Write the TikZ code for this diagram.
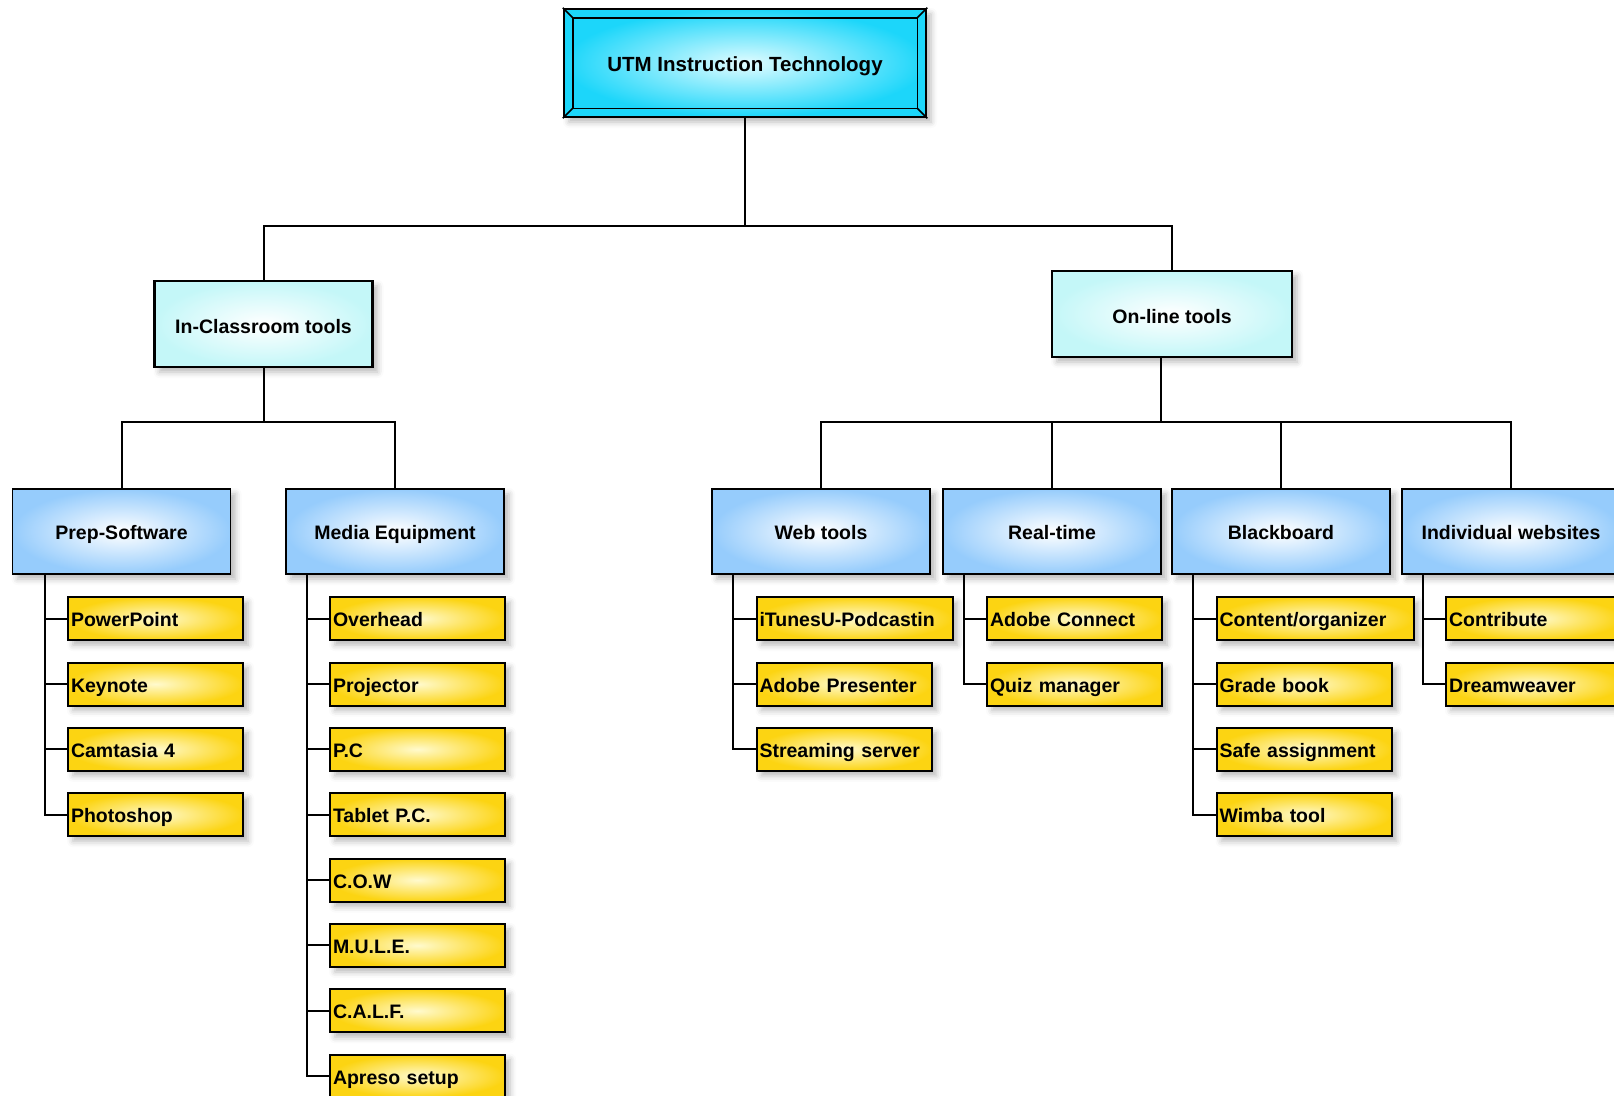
\documentclass[tikz,border=0pt]{standalone}
\usepackage{fontspec}
\setmainfont{Liberation Sans}
\usetikzlibrary{shadows.blur}

\definecolor{rootcyan}{RGB}{28,214,250}
\definecolor{rootlight}{RGB}{225,252,255}
\definecolor{palecyan}{RGB}{196,247,248}
\definecolor{skyblue}{RGB}{150,204,252}
\definecolor{gold}{RGB}{252,212,18}
\definecolor{goldlight}{RGB}{255,250,205}

\tikzset{
  softshadow/.style={blur shadow={shadow xshift=5pt, shadow yshift=-5pt, shadow blur radius=6pt, shadow opacity=28}},
  rootbox/.style={draw=black, line width=2.5pt, inner color=rootlight, outer color=rootcyan,
    minimum width=362pt, minimum height=108pt, text height=18pt, text depth=2pt,
    font=\bfseries\fontsize{20.5}{24}\selectfont, softshadow},
  mainbox/.style={draw=black, line width=2.5pt, inner color=white, outer color=palecyan,
    minimum height=86pt, text height=18pt, text depth=0pt,
    font=\bfseries\fontsize{19.5}{23}\selectfont, softshadow},
  groupbox/.style={draw=black, line width=1.6pt, inner color=white, outer color=skyblue,
    minimum width=218pt, minimum height=85pt, text height=17pt, text depth=1pt,
    font=\bfseries\fontsize{19.5}{23}\selectfont, softshadow},
  itembox/.style={draw=black, line width=2pt, inner color=goldlight, outer color=gold, anchor=west,
    text width=169pt, align=left, inner xsep=3pt, inner ysep=0pt, minimum height=43pt,
    text height=17pt, text depth=1pt, font=\bfseries\fontsize{19.5}{23}\selectfont, softshadow},
  link/.style={draw=black, line width=2pt}
}

\begin{document}
\begin{tikzpicture}[x=1pt,y=-1pt]
    \useasboundingbox (0,0) rectangle (1614,1095);

    % root
    \node[rootbox] (UTM) at (745,63) {UTM Instruction Technology};
    \draw[line width=1.5pt] ([shift={(10pt,-10pt)}]UTM.north west) rectangle ([shift={(-10pt,10pt)}]UTM.south east);
    \draw[line width=1.5pt] (UTM.north west) -- ([shift={(10pt,-10pt)}]UTM.north west);
    \draw[line width=1.5pt] (UTM.north east) -- ([shift={(-10pt,-10pt)}]UTM.north east);
    \draw[line width=1.5pt] (UTM.south west) -- ([shift={(10pt,10pt)}]UTM.south west);
    \draw[line width=1.5pt] (UTM.south east) -- ([shift={(-10pt,10pt)}]UTM.south east);

    % first level
    \node[mainbox,minimum width=218pt] (ICT) at (263.5,324) {In-Classroom tools};
    \node[mainbox,minimum width=240pt] (OLT) at (1172,314) {On-line tools};

    % second level
    \node[groupbox] (PS) at (121.5,531.5) {Prep-Software};
    \node[groupbox] (ME) at (395,531.5) {Media Equipment};
    \node[groupbox] (WT) at (821,531.5) {Web tools};
    \node[groupbox] (RT) at (1052,531.5) {Real-time};
    \node[groupbox] (BB) at (1281,531.5) {Blackboard};
    \node[groupbox] (IW) at (1511,531.5) {Individual websites};

    % Prep-Software items
    \node[itembox] (PS1) at (67,618.6) {PowerPoint};
    \node[itembox] (PS2) at (67,684) {Keynote};
    \node[itembox] (PS3) at (67,749.3) {Camtasia 4};
    \node[itembox] (PS4) at (67,814.7) {Photoshop};

    % Media Equipment items
    \node[itembox] (ME1) at (329,618.6) {Overhead};
    \node[itembox] (ME2) at (329,684) {Projector};
    \node[itembox] (ME3) at (329,749.3) {P.C};
    \node[itembox] (ME4) at (329,814.7) {Tablet P.C.};
    \node[itembox] (ME5) at (329,880) {C.O.W};
    \node[itembox] (ME6) at (329,945.4) {M.U.L.E.};
    \node[itembox] (ME7) at (329,1010.8) {C.A.L.F.};
    \node[itembox] (ME8) at (329,1076.1) {Apreso setup};

    % Web tools items
    \node[itembox,text width=190pt] (WT1) at (755.5,618.6) {iTunesU-Podcastin};
    \node[itembox] (WT2) at (755.5,684) {Adobe Presenter};
    \node[itembox] (WT3) at (755.5,749.3) {Streaming server};

    % Real-time items
    \node[itembox] (RT1) at (986,618.6) {Adobe Connect};
    \node[itembox] (RT2) at (986,684) {Quiz manager};

    % Blackboard items
    \node[itembox,text width=191pt] (BB1) at (1215.5,618.6) {Content/organizer};
    \node[itembox] (BB2) at (1215.5,684) {Grade book};
    \node[itembox] (BB3) at (1215.5,749.3) {Safe assignment};
    \node[itembox] (BB4) at (1215.5,814.7) {Wimba tool};

    % Individual websites items
    \node[itembox] (IW1) at (1445,618.6) {Contribute};
    \node[itembox] (IW2) at (1445,684) {Dreamweaver};

    % junctions
    \coordinate (J1) at (745,226);
    \coordinate (J2) at (263.5,422);
    \coordinate (J3) at (1161,422);

    % upper connectors
    \draw[link] (UTM.south) -- (J1) -| (ICT.north);
    \draw[link] (J1) -| (OLT.north);
    \draw[link] (ICT.south) -- (J2) -| (PS.north);
    \draw[link] (J2) -| (ME.north);
    \draw[link] ([xshift=-11pt]OLT.south) -- (J3) -| (WT.north);
    \draw[link] (J3) -| (RT.north);
    \draw[link] (J3) -| (BB.north);
    \draw[link] (J3) -| (IW.north);

    % item connectors
    \draw[link] ([xshift=33pt]PS.south west) |- (PS1.west);
    \draw[link] ([xshift=33pt]PS.south west) |- (PS2.west);
    \draw[link] ([xshift=33pt]PS.south west) |- (PS3.west);
    \draw[link] ([xshift=33pt]PS.south west) |- (PS4.west);

    \draw[link] ([xshift=21.5pt]ME.south west) |- (ME1.west);
    \draw[link] ([xshift=21.5pt]ME.south west) |- (ME2.west);
    \draw[link] ([xshift=21.5pt]ME.south west) |- (ME3.west);
    \draw[link] ([xshift=21.5pt]ME.south west) |- (ME4.west);
    \draw[link] ([xshift=21.5pt]ME.south west) |- (ME5.west);
    \draw[link] ([xshift=21.5pt]ME.south west) |- (ME6.west);
    \draw[link] ([xshift=21.5pt]ME.south west) |- (ME7.west);
    \draw[link] ([xshift=21.5pt]ME.south west) |- (ME8.west);

    \draw[link] ([xshift=21.5pt]WT.south west) |- (WT1.west);
    \draw[link] ([xshift=21.5pt]WT.south west) |- (WT2.west);
    \draw[link] ([xshift=21.5pt]WT.south west) |- (WT3.west);

    \draw[link] ([xshift=21.5pt]RT.south west) |- (RT1.west);
    \draw[link] ([xshift=21.5pt]RT.south west) |- (RT2.west);

    \draw[link] ([xshift=21.5pt]BB.south west) |- (BB1.west);
    \draw[link] ([xshift=21.5pt]BB.south west) |- (BB2.west);
    \draw[link] ([xshift=21.5pt]BB.south west) |- (BB3.west);
    \draw[link] ([xshift=21.5pt]BB.south west) |- (BB4.west);

    \draw[link] ([xshift=21.5pt]IW.south west) |- (IW1.west);
    \draw[link] ([xshift=21.5pt]IW.south west) |- (IW2.west);
\end{tikzpicture}
\end{document}
